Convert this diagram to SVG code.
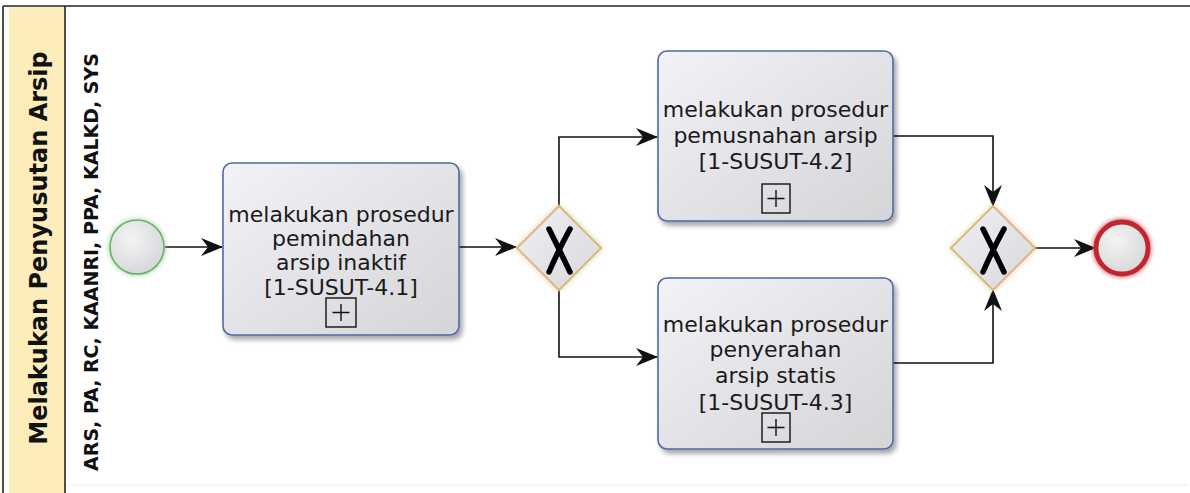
<svg xmlns="http://www.w3.org/2000/svg" width="1190" height="493" viewBox="0 0 1190 493">
<defs>
  <linearGradient id="taskFill" x1="0" y1="0" x2="1" y2="1">
    <stop offset="0" stop-color="#F2F2F7"/>
    <stop offset="1" stop-color="#D5D5D8"/>
  </linearGradient>
  <linearGradient id="gwFill" x1="0" y1="0" x2="1" y2="1">
    <stop offset="0" stop-color="#F0F0F4"/>
    <stop offset="1" stop-color="#D8D8DC"/>
  </linearGradient>
  <radialGradient id="evFill" cx="0.4" cy="0.35" r="0.7">
    <stop offset="0" stop-color="#F4F4F6"/>
    <stop offset="1" stop-color="#D6D6DA"/>
  </radialGradient>
  <filter id="shadow" x="-10%" y="-10%" width="125%" height="130%">
    <feGaussianBlur in="SourceAlpha" stdDeviation="2.5"/>
    <feOffset dx="3" dy="4" result="b"/>
    <feComponentTransfer><feFuncA type="linear" slope="0.35"/></feComponentTransfer>
    <feMerge><feMergeNode/><feMergeNode in="SourceGraphic"/></feMerge>
  </filter>
  <filter id="glowG" x="-30%" y="-30%" width="160%" height="160%">
    <feGaussianBlur in="SourceGraphic" stdDeviation="2.5"/>
    <feMerge><feMergeNode/><feMergeNode in="SourceGraphic"/></feMerge>
  </filter>
  <marker id="arr" viewBox="0 0 22 18" refX="21" refY="9" markerWidth="22" markerHeight="18" markerUnits="userSpaceOnUse" orient="auto">
    <path d="M0,0 L22,9 L0,18 L7,9 Z" fill="#111"/>
  </marker>
  <style>
    .task{fill:url(#taskFill);stroke:#4E6AA6;stroke-width:1.6;filter:url(#shadow)}
    .tt{font-family:"DejaVu Sans","Liberation Sans",sans-serif;font-size:22px;fill:#1A1A1A;text-anchor:middle}
    .plus{fill:none;stroke:#111;stroke-width:1.4}
    .gw{fill:url(#gwFill);stroke:#D8B874;stroke-width:1.8;filter:url(#glowG)}
    .gx{fill:none;stroke:#000;stroke-width:5.5;stroke-linecap:round}
    .conn{fill:none;stroke:#111;stroke-width:1.6;marker-end:url(#arr)}
    .frame{fill:none;stroke:#222;stroke-width:1.6}
  </style>
</defs>

<g id="pool">
  <rect x="9" y="7" width="55" height="486" fill="#FDEDBA"/>
  <line class="frame" x1="3" y1="6" x2="1190" y2="6"/>
  <line class="frame" x1="3" y1="6" x2="3" y2="493"/>
  <line class="frame" x1="65" y1="6" x2="65" y2="493"/>
  <line x1="66" y1="485" x2="1188" y2="485" stroke="#EEEEEE" stroke-width="1"/>
  <text transform="translate(47,248) rotate(-90)" font-family="DejaVu Sans, Liberation Sans, sans-serif" font-weight="bold" font-size="24" fill="#111" text-anchor="middle">Melakukan Penyusutan Arsip</text>
  <text transform="translate(98,262) rotate(-90)" font-family="DejaVu Sans, Liberation Sans, sans-serif" font-weight="bold" font-size="19" fill="#111" text-anchor="middle">ARS, PA, RC, KAANRI, PPA, KALKD, SYS</text>
</g>

<g id="connectors">
  <path class="conn" d="M165,247 L222,247"/>
  <path class="conn" d="M459,247 L516,247"/>
  <path class="conn" d="M559,206 V137 H657"/>
  <path class="conn" d="M559,290 V357 H657"/>
  <path class="conn" d="M893,136 H993 V206"/>
  <path class="conn" d="M893,363 H993 V290"/>
  <path class="conn" d="M1035,248 H1095"/>
</g>

<g id="start">
  <circle cx="137" cy="247" r="27" fill="url(#evFill)" stroke="#62B662" stroke-width="1.6" filter="url(#glowG)"/>
</g>

<g id="task1">
  <rect class="task" x="223" y="163" width="236" height="172" rx="9"/>
  <text class="tt" x="341" y="222">melakukan prosedur</text>
  <text class="tt" x="341" y="246">pemindahan</text>
  <text class="tt" x="341" y="270">arsip inaktif</text>
  <text class="tt" x="341" y="295">[1-SUSUT-4.1]</text>
  <rect class="plus" x="326" y="298" width="30" height="29"/>
  <path class="plus" d="M341,304 V321 M332.5,312.5 H349.5"/>
</g>

<g id="gateway1">
  <path class="gw" d="M559,206 L601,248 L559,290 L517,248 Z"/>
  <path class="gx" d="M549,229 Q559,249 570,272 M570,229 Q559,249 549,272"/>
</g>

<g id="task2">
  <rect class="task" x="658" y="51" width="235" height="170" rx="9"/>
  <text class="tt" x="775.5" y="117">melakukan prosedur</text>
  <text class="tt" x="775.5" y="143">pemusnahan arsip</text>
  <text class="tt" x="775.5" y="169">[1-SUSUT-4.2]</text>
  <rect class="plus" x="762" y="184" width="28" height="29"/>
  <path class="plus" d="M776,190 V207 M767.5,198.5 H784.5"/>
</g>

<g id="task3">
  <rect class="task" x="658" y="278" width="235" height="171" rx="9"/>
  <text class="tt" x="775.5" y="332">melakukan prosedur</text>
  <text class="tt" x="775.5" y="357">penyerahan</text>
  <text class="tt" x="775.5" y="383">arsip statis</text>
  <text class="tt" x="775.5" y="410">[1-SUSUT-4.3]</text>
  <rect class="plus" x="762" y="413" width="28" height="29"/>
  <path class="plus" d="M776,419 V436 M767.5,427.5 H784.5"/>
</g>

<g id="gateway2">
  <path class="gw" d="M993,206 L1035,248 L993,290 L951,248 Z"/>
  <path class="gx" d="M983,229 Q993,249 1004,272 M1004,229 Q993,249 983,272"/>
</g>

<g id="end">
  <circle cx="1122" cy="248" r="26" fill="url(#evFill)" stroke="#C1272D" stroke-width="4.8" filter="url(#glowG)"/>
</g>
</svg>
